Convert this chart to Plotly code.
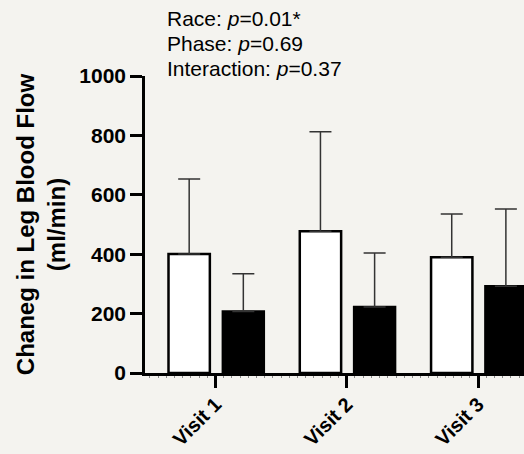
import plotly.graph_objects as go

visits = ["Visit 1", "Visit 2", "Visit 3"]
x_pos = [0, 1, 2]
white_vals = [401, 477, 390]
white_err = [252, 335, 145]
black_vals = [207, 222, 292]
black_err = [127, 182, 260]
annot_lines = ["Race: <i>p</i>=0.01*", "Phase: <i>p</i>=0.69", "Interaction: <i>p</i>=0.37"]

FONT = "Arial, Liberation Sans, Helvetica, sans-serif"
BG = "#f4f3ef"

fig = go.Figure()
fig.add_trace(go.Bar(
    x=x_pos, y=white_vals, width=0.315, offset=-0.358,
    marker=dict(color="white", line=dict(color="black", width=2.5)),
    error_y=dict(type="data", symmetric=False, array=white_err,
                 arrayminus=[0, 0, 0], color="#333333", thickness=1.5, width=11),
    showlegend=False, hoverinfo="skip",
))
fig.add_trace(go.Bar(
    x=x_pos, y=black_vals, width=0.312, offset=0.056,
    marker=dict(color="black", line=dict(color="black", width=2.5)),
    error_y=dict(type="data", symmetric=False, array=black_err,
                 arrayminus=[0, 0, 0], color="#333333", thickness=1.5, width=11),
    showlegend=False, hoverinfo="skip",
))

annot_y = [1.194, 1.110, 1.024]
for txt, yy in zip(annot_lines, annot_y):
    fig.add_annotation(text=txt, xref="paper", yref="paper", x=0.053, y=yy,
                       xanchor="left", yanchor="middle", showarrow=False,
                       font=dict(family=FONT, size=21, color="black"))

fig.update_layout(
    width=524, height=454,
    margin=dict(l=145, r=0, t=76, b=81),
    paper_bgcolor=BG, plot_bgcolor=BG,
    barmode="overlay",
    font=dict(family=FONT, color="black"),
    xaxis=dict(
        range=[-0.537, 2.35], tickmode="array", tickvals=x_pos, ticktext=visits,
        tickangle=-45, showline=True, linecolor="black", linewidth=2.5,
        ticks="outside", ticklen=12, tickwidth=2.5, tickcolor="black",
        tickfont=dict(family=FONT, size=20, color="black", weight="bold"),
        ticklabelstandoff=-3,
        showgrid=False, zeroline=False, automargin=False,
        minor=dict(dtick=0.0625, tick0=0, ticks="outside", ticklen=2,
                   tickwidth=1, tickcolor="#888888", showgrid=False),
    ),
    yaxis=dict(
        range=[0, 1000], dtick=200, showline=True, linecolor="black", linewidth=2.5,
        ticks="outside", ticklen=12, tickwidth=2.5, tickcolor="black",
        tickfont=dict(family=FONT, size=21, color="black", weight="bold"),
        showgrid=False, zeroline=False, automargin=False,
        title=dict(text="Chaneg in Leg Blood Flow<br>(ml/min)",
                   font=dict(family=FONT, size=24, color="black", weight="bold"),
                   standoff=7),
    ),
)

fig.write_html("out.html", config={"displayModeBar": False},
               post_script="document.body.style.margin='0px';document.body.style.background='" + BG + "';")
